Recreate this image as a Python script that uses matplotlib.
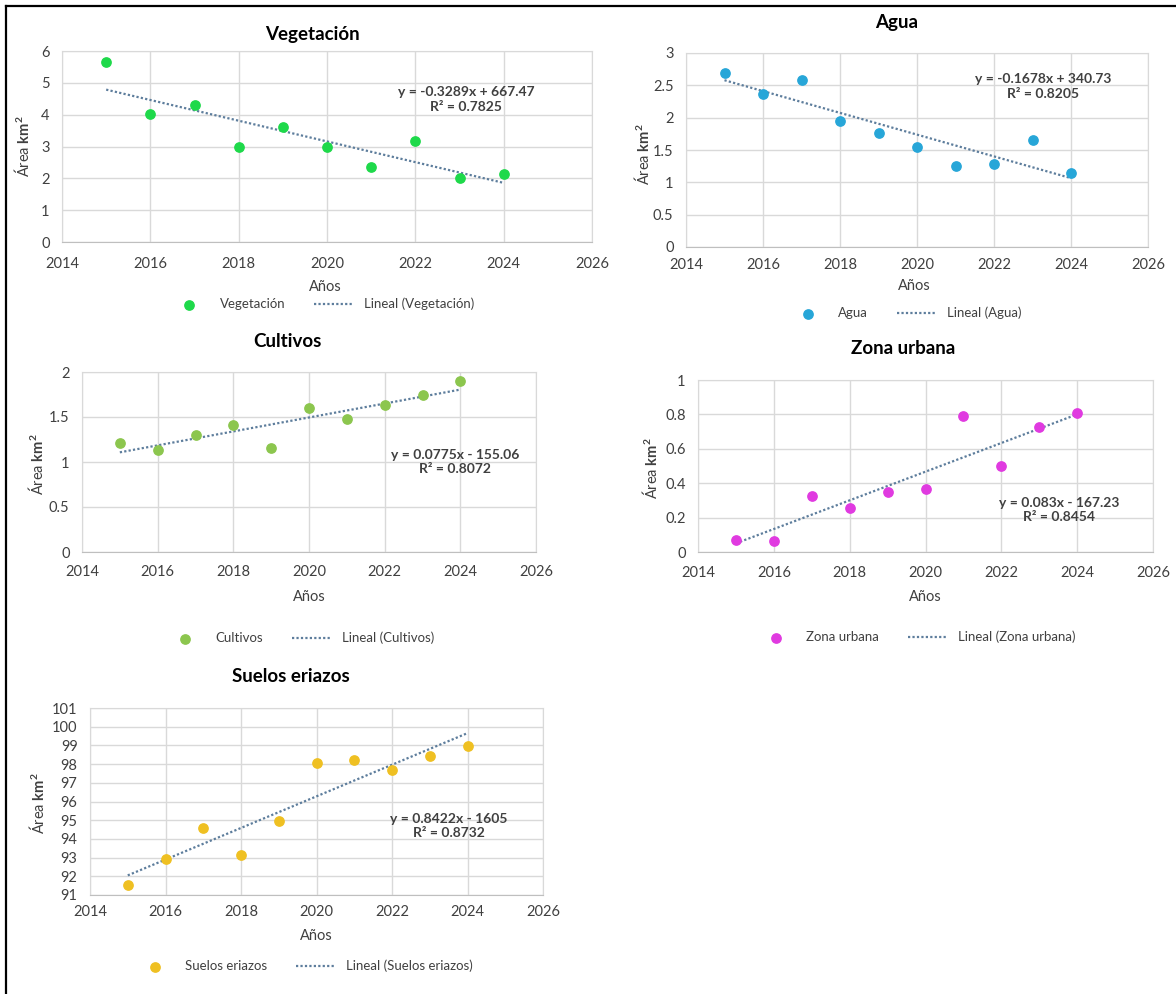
import matplotlib
matplotlib.use('Agg')
import matplotlib.pyplot as plt
import numpy as np
from matplotlib.lines import Line2D
from matplotlib.ticker import MultipleLocator, FuncFormatter

plt.rcParams['font.family'] = ['Lato', 'DejaVu Sans']
plt.rcParams['mathtext.fontset'] = 'custom'
plt.rcParams['mathtext.rm'] = 'Lato'
plt.rcParams['mathtext.bf'] = 'Lato:bold'

# data (area in km2 per year)
years = [2015, 2016, 2017, 2018, 2019, 2020, 2021, 2022, 2023, 2024]
vegetacion = [5.65, 4.01, 4.31, 2.98, 3.60, 2.98, 2.36, 3.17, 2.02, 2.14]
agua = [2.69, 2.37, 2.58, 1.95, 1.76, 1.54, 1.25, 1.29, 1.65, 1.14]
cultivos = [1.21, 1.13, 1.30, 1.41, 1.16, 1.60, 1.48, 1.63, 1.74, 1.90]
zona_urbana = [0.068, 0.066, 0.326, 0.258, 0.348, 0.367, 0.788, 0.499, 0.726, 0.808]
suelos_eriazos = [91.54, 92.93, 94.59, 93.13, 94.96, 98.05, 98.20, 97.70, 98.45, 98.98]

titles = ['Vegetación', 'Agua', 'Cultivos', 'Zona urbana', 'Suelos eriazos']
equations = ['y = -0.3289x + 667.47', 'y = -0.1678x + 340.73', 'y = 0.0775x - 155.06',
             'y = 0.083x - 167.23', 'y = 0.8422x - 1605']
r2_labels = ['R² = 0.7825', 'R² = 0.8205', 'R² = 0.8072', 'R² = 0.8454', 'R² = 0.8732']
colors = ['#1ed94a', '#27a6d8', '#8cc64e', '#e03ae0', '#efc022']

W, H = 1176, 994
fig = plt.figure(figsize=(W / 100, H / 100), dpi=100)

# black frame on the left and top
fig.add_artist(Line2D([6 / W, 6 / W], [0, 1 - 6 / H], color='black', lw=1.6, transform=fig.transFigure))
fig.add_artist(Line2D([6 / W, 1], [1 - 6 / H, 1 - 6 / H], color='black', lw=1.6, transform=fig.transFigure))


def add_px_axes(left, top, right, bottom):
    return fig.add_axes([left / W, 1 - bottom / H, (right - left) / W, (bottom - top) / H])


def draw_panel(ax, values, color, title, eq, r2, ylim, ystep, title_pos, eq_pos,
               xlab_pos, ylab_pos, leg_pos, tick_pad):
    ax.scatter(years, values, s=45, color=color, zorder=3, label=title)
    slope, inter = np.polyfit(years, values, 1)
    xs = np.array([years[0], years[-1]])
    ax.plot(xs, slope * xs + inter, linestyle=(0, (1, 1)), color='#5d7d9c', lw=1.6,
            zorder=2, label='Lineal (' + title + ')')

    ax.set_xlim(2014, 2026)
    ax.set_ylim(*ylim)
    ax.xaxis.set_major_locator(MultipleLocator(2))
    ax.yaxis.set_major_locator(MultipleLocator(ystep))
    ax.yaxis.set_major_formatter(FuncFormatter(lambda v, p: f'{v:g}'))
    ax.grid(True, color='#d9d9d9', lw=1)
    ax.set_axisbelow(True)
    for sp in ax.spines.values():
        sp.set_color('#d9d9d9')
    ax.spines['bottom'].set_color('#bfbfbf')
    ax.tick_params(length=0, labelsize=10.5, colors='#404040')
    ax.tick_params(axis='x', pad=tick_pad)
    ax.tick_params(axis='y', pad=9)

    ax.text(title_pos[0], title_pos[1], title, transform=ax.transAxes, ha='center',
            va='center', fontsize=13.5, fontweight='bold', color='black')
    ax.text(eq_pos[0], eq_pos[1], eq + '\n' + r2, ha='center', va='center', fontsize=10,
            fontweight='bold', color='#404040', linespacing=1.25)

    ax.set_xlabel('Años', fontsize=10.5, color='#404040', va='center')
    ax.xaxis.set_label_coords(*xlab_pos)
    ax.set_ylabel(r'Área $\mathbf{km^2}$', fontsize=10.5, color='#404040', va='center')
    ax.yaxis.set_label_coords(*ylab_pos)

    ax.legend(loc='center', bbox_to_anchor=(leg_pos[0] / W, 1 - leg_pos[1] / H),
              bbox_transform=fig.transFigure, ncol=2, frameon=False, fontsize=9.5,
              handlelength=3, columnspacing=2.2, labelcolor='#404040', scatterpoints=1)


panels = [
    # values, ylim, ystep, (left, top, right, bottom), title, eq, xlabel, ylabel, legend, tickpad
    (vegetacion, (0, 6), 1, (62, 51, 592, 242), (0.472, 1.084), (2023.15, 4.48),
     (0.496, -0.236), (-0.074, 0.5), (322, 304), 11),
    (agua, (0, 3), 0.5, (686, 53, 1148, 247), (0.455, 1.155), (2023.27, 2.48),
     (0.494, -0.2), (-0.095, 0.48), (905, 313), 8),
    (cultivos, (0, 2), 0.5, (82, 372, 536, 552), (0.452, 1.172), (2023.86, 1.0),
     (0.5, -0.25), (-0.101, 0.49), (300, 638), 9),
    (zona_urbana, (0, 1), 0.2, (698, 380, 1153, 552), (0.451, 1.186), (2023.52, 0.244),
     (0.5, -0.262), (-0.105, 0.49), (916, 637), 10),
    (suelos_eriazos, (91, 101), 1, (90, 708, 543, 895), (0.444, 1.166), (2023.51, 94.69),
     (0.5, -0.219), (-0.115, 0.49), (304, 966), 7),
]

for i, (vals, ylim, ystep, box, tpos, epos, xl, yl, lg, tp) in enumerate(panels):
    ax = add_px_axes(*box)
    draw_panel(ax, vals, colors[i], titles[i], equations[i], r2_labels[i], ylim, ystep,
               tpos, epos, xl, yl, lg, tp)

fig.savefig('out.png', dpi=100, facecolor='white')
